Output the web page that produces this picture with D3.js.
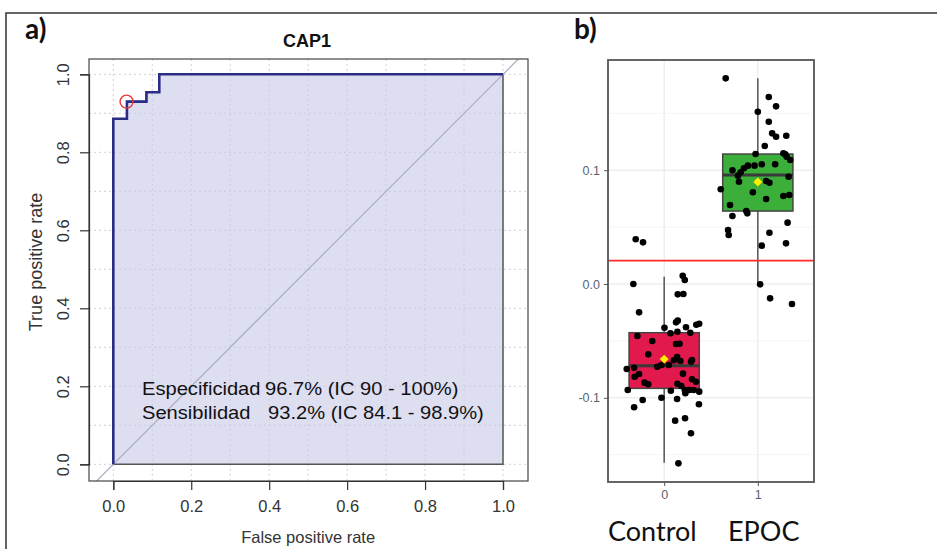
<!DOCTYPE html>
<html>
<head>
<meta charset="utf-8">
<script src="https://cdn.jsdelivr.net/npm/d3@7"></script>
<style>
  body { margin: 0; background: #fff; }
  svg { display: block; }
</style>
</head>
<body>
<div id="chart"></div>
<script>
// ROC curve (panel a)
const rocFpr = [0, 0, 0.035, 0.085, 0.118, 1]
const rocTpr = [0, 0.886, 0.93, 0.954, 1, 1]
const cutPoint = { fpr: 0.034, tpr: 0.93 }
const rocTicks = [0, 0.2, 0.4, 0.6, 0.8, 1]
const rocGrid = [0, 0.1, 0.2, 0.3, 0.4, 0.5, 0.6, 0.7, 0.8, 0.9, 1]
const statLabels = ['Especificidad', 'Sensibilidad']
const statValues = ['96.7% (IC 90 - 100%)', '93.2% (IC 84.1 - 98.9%)']

// Boxplots (panel b)
const groups = ['Control', 'EPOC']
const groupPos = [0, 1]
const boxQ1 = [-0.0917, 0.0641]
const boxMedian = [-0.0718, 0.0958]
const boxQ3 = [-0.0428, 0.1142]
const whiskerLow = [-0.157, 0.0]
const whiskerHigh = [0.0064, 0.1807]
const groupMean = [-0.066, 0.0896]
const cutoff = 0.0205
const bTicks = [-0.1, 0, 0.1]
const bMinor = [-0.15, -0.05, 0.05, 0.15]

const controlJitter = [-0.304, -0.226, -0.329, 0.198, 0.220, 0.145, 0.205, -0.268, 0.145, 0.127,
  0.374, 0.343, 0.003, 0.233, 0.141, 0.067, 0.279, -0.286, -0.127, 0.127,
  0.164, -0.170, 0.138, 0.173, 0.297, 0.286, 0.103, -0.400, -0.321, -0.074,
  -0.029, 0.050, 0.201, -0.315, -0.268, 0.297, -0.209, -0.170, 0.141, 0.183,
  0.339, -0.389, 0.071, 0.220, 0.268, 0.315, 0.374, 0.226, -0.029, -0.230,
  0.138, -0.321, 0.371, 0.117, 0.223, 0.286, 0.152]
const controlValues = [0.0393, 0.0366, 0.0, 0.0073, 0.0035, -0.0091, -0.0088, -0.0249, -0.0322, -0.0337,
  -0.0349, -0.0358, -0.0384, -0.0380, -0.0419, -0.0433, -0.0428, -0.0457, -0.0501, -0.0527,
  -0.0525, -0.0618, -0.0641, -0.0677, -0.0668, -0.0683, -0.0670, -0.0747, -0.0736, -0.0727,
  -0.0712, -0.0712, -0.0788, -0.0815, -0.0791, -0.0837, -0.0867, -0.0881, -0.0876, -0.0896,
  -0.0859, -0.0931, -0.0938, -0.0931, -0.0931, -0.0931, -0.0946, -0.0960, -0.0999, -0.1019,
  -0.1011, -0.1083, -0.1057, -0.1201, -0.1180, -0.1312, -0.1576]

const epocJitter = [-0.343, 0.117, 0.195, 0.0, 0.117, 0.153, 0.195, 0.304, 0.074, -0.024,
  0.273, 0.294, 0.308, 0.347, -0.106, -0.035, 0.042, 0.185, -0.148, -0.271,
  -0.183, -0.212, 0.329, -0.201, 0.089, 0.124, -0.396, -0.053, 0.273, 0.336,
  0.089, -0.297, -0.123, -0.112, -0.271, 0.318, -0.318, -0.311, 0.124, 0.301,
  0.042, 0.025, 0.131, 0.365]
const epocValues = [0.1807, 0.1643, 0.1561, 0.1514, 0.1426, 0.1324, 0.1294, 0.1303, 0.1213, 0.1142,
  0.1148, 0.1140, 0.1119, 0.1090, 0.1040, 0.1040, 0.1052, 0.1052, 0.1017, 0.0999,
  0.0982, 0.0952, 0.0943, 0.0899, 0.0905, 0.0890, 0.0832, 0.0806, 0.0773, 0.0782,
  0.0747, 0.0694, 0.0641, 0.0621, 0.0598, 0.0539, 0.0475, 0.0431, 0.0451, 0.0357,
  0.0337, -0.0003, -0.0126, -0.0176]

const boxColors = ['#e2194c', '#3cae3a']

const width = 937
const height = 549
const sans = '"Liberation Sans", Arial, sans-serif'

const svg = d3.select('#chart')
  .append('svg')
  .attr('width', width)
  .attr('height', height)

// outer frame (top and left only)
svg.append('path')
  .attr('d', 'M6,549V13H937')
  .attr('fill', 'none')
  .attr('stroke', '#333')
  .attr('stroke-width', 1.5)

svg.append('text').text('a)')
  .attr('x', 25).attr('y', 39)
  .style('font-family', 'Lato').style('font-weight', 'bold').style('font-size', '28px')
  .attr('fill', '#111')
svg.append('text').text('b)')
  .attr('x', 574).attr('y', 39)
  .style('font-family', 'Lato').style('font-weight', 'bold').style('font-size', '28px')
  .attr('fill', '#111')

// ---------- panel a ----------
const xA = d3.scaleLinear().domain([0, 1]).range([113.3, 503])
const yA = d3.scaleLinear().domain([0, 1]).range([464.3, 74.3])
const boxA = { x0: 89, x1: 528, y0: 59, y1: 481 }

svg.append('clipPath').attr('id', 'clipA')
  .append('rect')
  .attr('x', boxA.x0).attr('y', boxA.y0)
  .attr('width', boxA.x1 - boxA.x0).attr('height', boxA.y1 - boxA.y0)

const gA = svg.append('g')

// dotted grid
gA.selectAll('.vgrid').data(rocGrid).enter().append('line')
  .attr('x1', d => xA(d)).attr('x2', d => xA(d))
  .attr('y1', boxA.y0).attr('y2', boxA.y1)
  .attr('stroke', '#cfcfdc').attr('stroke-dasharray', '2,3')
gA.selectAll('.hgrid').data(rocGrid).enter().append('line')
  .attr('y1', d => yA(d)).attr('y2', d => yA(d))
  .attr('x1', boxA.x0).attr('x2', boxA.x1)
  .attr('stroke', '#cfcfdc').attr('stroke-dasharray', '2,3')

const rocPts = rocFpr.map((f, i) => [f, rocTpr[i]])

// area under curve
const area = d3.area()
  .x(d => xA(d[0]))
  .y0(yA(0))
  .y1(d => yA(d[1]))
  .curve(d3.curveStepAfter)
gA.append('path')
  .datum(rocPts)
  .attr('d', area)
  .attr('fill', '#c8c8e8')
  .attr('fill-opacity', 0.6)
  .attr('stroke', '#555')
  .attr('stroke-width', 1.5)

// chance diagonal
gA.append('line')
  .attr('clip-path', 'url(#clipA)')
  .attr('x1', xA(-0.2)).attr('y1', yA(-0.2))
  .attr('x2', xA(1.2)).attr('y2', yA(1.2))
  .attr('stroke', '#aeb0c4').attr('stroke-width', 1.3)

// ROC line
const line = d3.line()
  .x(d => xA(d[0]))
  .y(d => yA(d[1]))
  .curve(d3.curveStepAfter)
gA.append('path')
  .datum(rocPts)
  .attr('d', line)
  .attr('fill', 'none')
  .attr('stroke', '#2a2c86')
  .attr('stroke-width', 2.6)

// best cutoff marker
gA.append('circle')
  .attr('cx', xA(cutPoint.fpr)).attr('cy', yA(cutPoint.tpr))
  .attr('r', 6.5)
  .attr('fill', 'none')
  .attr('stroke', '#e8343a')
  .attr('stroke-width', 1.4)

// box
gA.append('rect')
  .attr('x', boxA.x0).attr('y', boxA.y0)
  .attr('width', boxA.x1 - boxA.x0).attr('height', boxA.y1 - boxA.y0)
  .attr('fill', 'none').attr('stroke', '#444').attr('stroke-width', 1.2)

// axes
const xAxisA = d3.axisBottom(xA).tickValues(rocTicks).tickFormat(d => d.toFixed(1))
  .tickSize(9).tickPadding(10)
const gxA = svg.append('g')
  .attr('transform', `translate(0, ${boxA.y1})`)
  .call(xAxisA)
gxA.select('.domain').attr('stroke', '#333').attr('stroke-width', 1.2)
gxA.selectAll('.tick line').attr('stroke', '#333').attr('stroke-width', 1.2)
gxA.selectAll('text').style('font-family', sans).style('font-size', '16.5px').attr('fill', '#333')

const yAxisA = d3.axisLeft(yA).tickValues(rocTicks).tickFormat(d => d.toFixed(1))
  .tickSize(9).tickPadding(0)
const gyA = svg.append('g')
  .attr('transform', `translate(${boxA.x0}, 0)`)
  .call(yAxisA)
gyA.select('.domain').attr('stroke', '#333').attr('stroke-width', 1.2)
gyA.selectAll('.tick line').attr('stroke', '#333').attr('stroke-width', 1.2)
gyA.selectAll('text')
  .attr('x', 0).attr('dy', 0)
  .attr('transform', 'translate(-20,0) rotate(-90)')
  .attr('text-anchor', 'middle')
  .style('font-family', sans).style('font-size', '16.5px').attr('fill', '#333')

svg.append('text').text('False positive rate')
  .attr('x', xA(0.5)).attr('y', 543)
  .attr('text-anchor', 'middle')
  .style('font-family', sans).style('font-size', '16.5px').attr('fill', '#333')
svg.append('text').text('True positive rate')
  .attr('transform', `translate(42, 262) rotate(-90)`)
  .attr('text-anchor', 'middle')
  .style('font-family', sans).style('font-size', '18px').attr('fill', '#333')
svg.append('text').text('CAP1')
  .attr('x', 307).attr('y', 47)
  .attr('text-anchor', 'middle')
  .style('font-family', sans).style('font-weight', 'bold').style('font-size', '18px')
  .attr('fill', '#111')

// sensitivity / specificity annotation (text in the source is stretched horizontally)
const statX = [0, 107]
statLabels.forEach((lab, i) => {
  const t = svg.append('text')
    .attr('transform', `translate(142, ${395 + i * 24}) scale(1.15, 1)`)
    .style('font-family', sans).style('font-size', '17.5px').attr('fill', '#111')
  t.append('tspan').attr('x', statX[0]).text(lab)
  t.append('tspan').attr('x', statX[1] + i * 2.6).text(statValues[i])
})

// ---------- panel b ----------
const xB = d3.scaleLinear().domain([-0.6, 1.6]).range([608, 814])
const yB = d3.scaleLinear().domain([-0.1, 0.1]).range([397.8, 170.2])
const boxB = { x0: 608, x1: 814, y0: 60, y1: 482 }
const gB = svg.append('g')

gB.selectAll('.minor').data(bMinor).enter().append('line')
  .attr('x1', boxB.x0).attr('x2', boxB.x1)
  .attr('y1', d => yB(d)).attr('y2', d => yB(d))
  .attr('stroke', '#f2f2f2').attr('stroke-width', 0.8)
gB.selectAll('.major').data(bTicks).enter().append('line')
  .attr('x1', boxB.x0).attr('x2', boxB.x1)
  .attr('y1', d => yB(d)).attr('y2', d => yB(d))
  .attr('stroke', '#e6e6e6').attr('stroke-width', 1)
gB.selectAll('.vmajor').data(groupPos).enter().append('line')
  .attr('x1', d => xB(d)).attr('x2', d => xB(d))
  .attr('y1', boxB.y0).attr('y2', boxB.y1)
  .attr('stroke', '#e6e6e6').attr('stroke-width', 1)

const half = 0.375
groupPos.forEach((p, i) => {
  // whisker
  gB.append('line')
    .attr('x1', xB(p)).attr('x2', xB(p))
    .attr('y1', yB(whiskerLow[i])).attr('y2', yB(whiskerHigh[i]))
    .attr('stroke', '#555').attr('stroke-width', 1.5)
  gB.append('rect')
    .attr('x', xB(p - half)).attr('width', xB(p + half) - xB(p - half))
    .attr('y', yB(boxQ3[i])).attr('height', yB(boxQ1[i]) - yB(boxQ3[i]))
    .attr('fill', boxColors[i])
    .attr('stroke', '#444').attr('stroke-width', 1.5)
  gB.append('line')
    .attr('x1', xB(p - half)).attr('x2', xB(p + half))
    .attr('y1', yB(boxMedian[i])).attr('y2', yB(boxMedian[i]))
    .attr('stroke', '#3a3a3a').attr('stroke-width', 3)
})

// jittered points
const dots = [
  ...controlValues.map((v, i) => ({ x: groupPos[0] + controlJitter[i], y: v })),
  ...epocValues.map((v, i) => ({ x: groupPos[1] + epocJitter[i], y: v }))
]
gB.selectAll('.dot').data(dots).enter().append('circle')
  .attr('cx', d => xB(d.x)).attr('cy', d => yB(d.y))
  .attr('r', 3.3).attr('fill', '#000')

// means
gB.selectAll('.mean').data(groupMean).enter().append('path')
  .attr('d', d3.symbol(d3.symbolSquare, 40))
  .attr('transform', (d, i) => `translate(${xB(groupPos[i])}, ${yB(d)}) rotate(45)`)
  .attr('fill', '#ffee00')

// cutoff
gB.append('line')
  .attr('x1', boxB.x0).attr('x2', boxB.x1)
  .attr('y1', yB(cutoff)).attr('y2', yB(cutoff))
  .attr('stroke', '#ff2a2a').attr('stroke-width', 1.6)

gB.append('rect')
  .attr('x', boxB.x0).attr('y', boxB.y0)
  .attr('width', boxB.x1 - boxB.x0).attr('height', boxB.y1 - boxB.y0)
  .attr('fill', 'none').attr('stroke', '#555').attr('stroke-width', 1.8)

const yAxisB = d3.axisLeft(yB).tickValues(bTicks).tickFormat(d => d.toFixed(1)).tickSize(4).tickPadding(4)
const gyB = svg.append('g').attr('transform', `translate(${boxB.x0}, 0)`).call(yAxisB)
gyB.select('.domain').remove()
gyB.selectAll('.tick line').attr('stroke', '#555')
gyB.selectAll('text').style('font-family', sans).style('font-size', '12.5px').attr('fill', '#5a5f73')

const xAxisB = d3.axisBottom(xB).tickValues(groupPos).tickFormat(d => String(d)).tickSize(4).tickPadding(4)
const gxB = svg.append('g').attr('transform', `translate(0, ${boxB.y1})`).call(xAxisB)
gxB.select('.domain').remove()
gxB.selectAll('.tick line').attr('stroke', '#555')
gxB.selectAll('text').style('font-family', sans).style('font-size', '12.5px').attr('fill', '#5a5f73')

// group names
const nameX = [608, 728]
groups.forEach((g, i) => {
  svg.append('text').text(g)
    .attr('x', nameX[i]).attr('y', 541)
    .style('font-family', 'Lato').style('font-size', '27px').attr('fill', '#111')
})
</script>
</body>
</html>
